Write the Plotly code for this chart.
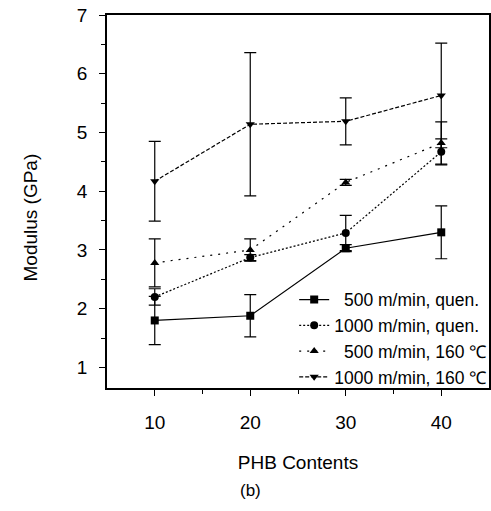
import plotly.graph_objects as go

phb = [10, 20, 30, 40]

# modulus (GPa) and error half-widths
sq_500_quen = [1.80, 1.88, 3.03, 3.30]
sq_500_quen_err = [0.41, 0.36, 0.06, 0.45]

ci_1000_quen = [2.20, 2.87, 3.29, 4.67]
ci_1000_quen_err = [0.14, 0.05, 0.30, 0.22]

tr_500_160 = [2.78, 3.00, 4.15, 4.82]
tr_500_160_err = [0.41, 0.19, 0.05, 0.36]

tv_1000_160 = [4.17, 5.14, 5.19, 5.63]
tv_1000_160_err = [0.68, 1.22, 0.40, 0.89]

names = [
    "\u2007500 m/min, quen.",
    "1000 m/min, quen.",
    "\u2007500 m/min, 160 \u2103",
    "1000 m/min, 160 \u2103",
]

series = [
    (sq_500_quen, sq_500_quen_err, "square", "solid"),
    (ci_1000_quen, ci_1000_quen_err, "circle", "2px,2px"),
    (tr_500_160, tr_500_160_err, "triangle-up", "2px,6px"),
    (tv_1000_160, tv_1000_160_err, "triangle-down", "4px,2px"),
]

fig = go.Figure()
for i, (vals, errs, sym, dash) in enumerate(series):
    fig.add_trace(go.Scatter(
        x=phb, y=vals,
        name=names[i],
        mode="lines+markers",
        line=dict(color="black", width=1.2, dash=dash),
        marker=dict(symbol=sym, size=8, color="black"),
        error_y=dict(type="data", array=errs, visible=True,
                     color="black", thickness=1.2, width=6),
    ))

fig.update_layout(
    width=491, height=511,
    margin=dict(l=107, r=2, t=15, b=123, autoexpand=False),
    paper_bgcolor="white",
    plot_bgcolor="white",
    font=dict(family="Liberation Sans, Arial, sans-serif", color="black", size=17),
    legend=dict(
        x=0.49, y=0.285, xanchor="left", yanchor="top",
        bgcolor="rgba(255,255,255,0)",
        font=dict(size=17.5),
        tracegroupgap=0,
        itemwidth=30,
    ),
    annotations=[
        dict(text="(b)", x=0.375, y=-0.275, xref="paper", yref="paper",
             showarrow=False, font=dict(size=17), xanchor="center", yanchor="middle"),
        dict(text="Modulus (GPa)", x=-0.2, y=0.456, xref="paper", yref="paper",
             textangle=-90, showarrow=False, font=dict(size=19),
             xanchor="center", yanchor="middle"),
    ],
)

fig.update_xaxes(
    range=[5, 45],
    tickvals=phb,
    ticks="outside", ticklen=6, tickwidth=1.2, tickcolor="black",
    minor=dict(tickvals=[15, 25, 35], ticks="outside", ticklen=4, tickcolor="black"),
    showline=True, linecolor="black", linewidth=1.5, mirror=True,
    showgrid=False, zeroline=False, automargin=False,
    ticklabelstandoff=10,
    title=dict(text="PHB Contents", font=dict(size=19), standoff=24),
    tickfont=dict(size=19),
)
fig.update_yaxes(
    range=[0.65, 7],
    tickvals=[1, 2, 3, 4, 5, 6, 7],
    ticks="outside", ticklen=6, tickwidth=1.2, tickcolor="black",
    minor=dict(tickvals=[1.5, 2.5, 3.5, 4.5, 5.5, 6.5], ticks="outside",
               ticklen=4, tickcolor="black"),
    showline=True, linecolor="black", linewidth=1.5, mirror=True,
    showgrid=False, zeroline=False, automargin=False,
    ticklabelstandoff=8,
    tickfont=dict(size=19),
)

# page body has a default margin; drop it so the figure sits at the corner
fig.write_html("out.html", config={"displayModeBar": False},
               post_script="document.body.style.margin='0';")
